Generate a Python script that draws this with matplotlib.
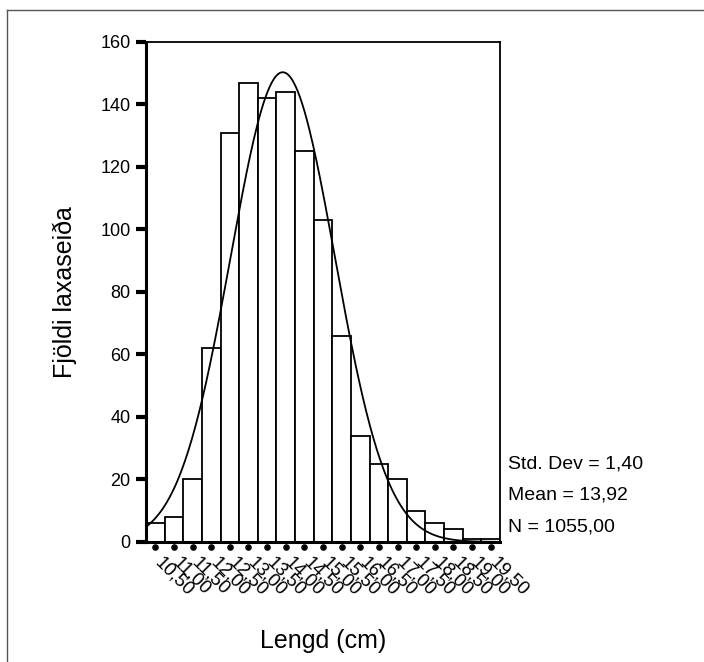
import numpy as np
import matplotlib
matplotlib.use('Agg')
import matplotlib.pyplot as plt
from matplotlib import rcParams
from matplotlib.transforms import blended_transform_factory, ScaledTranslation
from matplotlib.lines import Line2D

rcParams['font.family'] = ['Liberation Sans', 'DejaVu Sans']

# miðgildi bila og fjöldi í hverju bili
bin_centers = [10.5, 11.0, 11.5, 12.0, 12.5, 13.0, 13.5, 14.0, 14.5, 15.0,
               15.5, 16.0, 16.5, 17.0, 17.5, 18.0, 18.5, 19.0, 19.5]
counts = [6, 8, 20, 62, 131, 147, 142, 144, 125, 103,
          66, 34, 25, 20, 10, 6, 4, 1, 1]
tick_labels = ['10,50', '11,00', '11,50', '12,00', '12,50', '13,00', '13,50',
               '14,00', '14,50', '15,00', '15,50', '16,00', '16,50', '17,00',
               '17,50', '18,00', '18,50', '19,00', '19,50']
y_ticks = [0, 20, 40, 60, 80, 100, 120, 140, 160]

std_dev = 1.40
mean = 13.92
n_total = 1055
bin_width = 0.5

fig = plt.figure(figsize=(7.04, 6.62), dpi=100)
ax = fig.add_axes([0.2074, 0.1813, 0.5028, 0.7553])

ax.bar(bin_centers, counts, width=bin_width, color='white',
       edgecolor='black', linewidth=1.3, zorder=2)

# normaldreifingarferill
x0 = bin_centers[0] - bin_width / 2
x1 = bin_centers[-1] + bin_width / 2
xs = np.linspace(x0, x1, 300)
ys = n_total * bin_width / (std_dev * np.sqrt(2 * np.pi)) * np.exp(-0.5 * ((xs - mean) / std_dev) ** 2)
ax.plot(xs, ys, color='black', linewidth=1.3, zorder=3)

ax.set_xlim(x0, x1)
ax.set_ylim(0, 160)
ax.set_yticks(y_ticks)
ax.tick_params(axis='y', length=7, width=3, direction='out', pad=4, labelsize=13)
ax.set_xticks(bin_centers)
ax.set_xticklabels(tick_labels, rotation=-45, ha='left', va='top',
                   rotation_mode='anchor', fontsize=13.5)
ax.tick_params(axis='x', length=0, pad=9)
shift = ScaledTranslation(8 / 100, 0, fig.dpi_scale_trans)
for lbl in ax.get_xticklabels():
    lbl.set_transform(lbl.get_transform() + shift)

trans = blended_transform_factory(ax.transData, ax.transAxes)
ax.scatter(bin_centers, [-0.01] * len(bin_centers), s=14, color='black',
           transform=trans, clip_on=False, zorder=4)

for side in ['left', 'bottom']:
    ax.spines[side].set_linewidth(2.2)
for side in ['top', 'right']:
    ax.spines[side].set_linewidth(1.3)

ax.set_ylabel('Fjöldi laxaseiða', fontsize=18, labelpad=17)
ax.set_xlabel('Lengd (cm)', fontsize=18, labelpad=21)

fig.text(508 / 704, 1 - 464 / 662, 'Std. Dev = 1,40', fontsize=14, va='center')
fig.text(508 / 704, 1 - 495 / 662, 'Mean = 13,92', fontsize=14, va='center')
fig.text(508 / 704, 1 - 527 / 662, 'N = 1055,00', fontsize=14, va='center')

# rammi utan um myndina
fig.add_artist(Line2D([7 / 704, 7 / 704], [0, 1 - 10 / 662], color='#555555', linewidth=1))
fig.add_artist(Line2D([7 / 704, 1], [1 - 10 / 662, 1 - 10 / 662], color='#555555', linewidth=1))

fig.savefig('out.png', dpi=100)
